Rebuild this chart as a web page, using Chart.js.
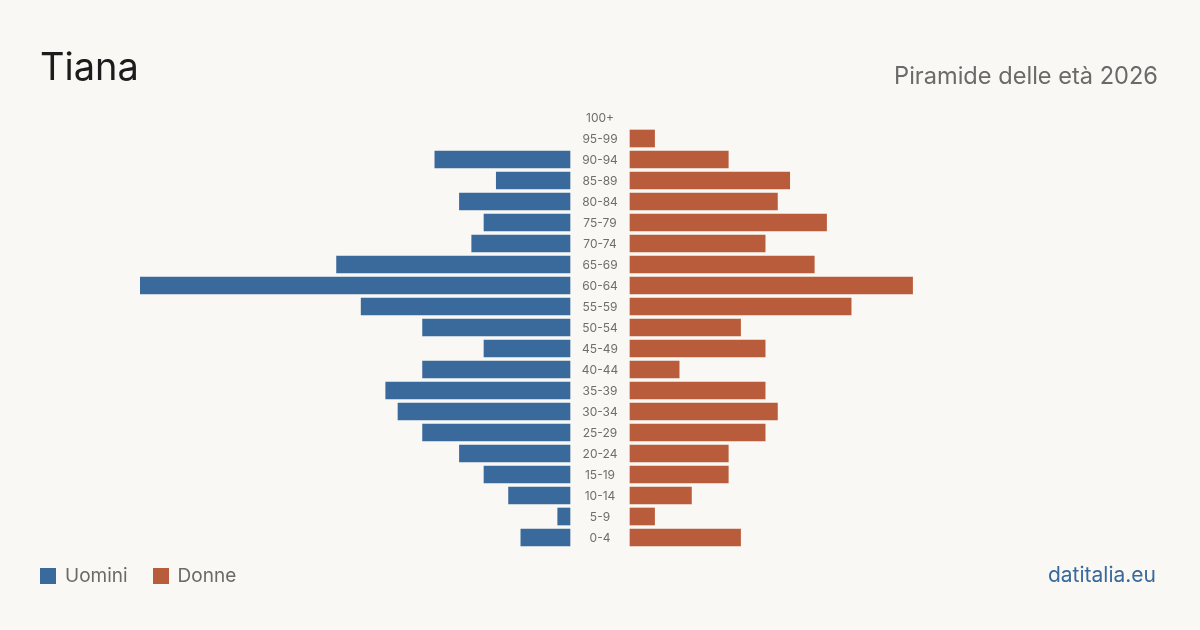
<!DOCTYPE html>
<html>
<head>
<meta charset="utf-8">
<script src="https://cdn.jsdelivr.net/npm/chart.js@4/dist/chart.umd.min.js"></script>
<style>
  html, body { margin: 0; padding: 0; background: #f9f8f4; }
  body { width: 1200px; height: 630px; position: relative; overflow: hidden; font-family: Inter, "Noto Sans", sans-serif; }
  #wrap { position: absolute; left: 0; top: 0; width: 1200px; height: 630px; }
  .title { position: absolute; left: 40px; top: 43px; font-size: 38px; color: #1c1c1c; line-height: 46px; }
  .subtitle { position: absolute; right: 42px; top: 61px; font-size: 23.6px; color: #6a6a6a; line-height: 30px; }
  .legend { position: absolute; left: 40px; top: 564px; font-size: 19px; color: #6a6a6a; line-height: 24px; display: flex; align-items: center; }
  .legend span.box { display: inline-block; width: 16px; height: 16px; margin-right: 9px; }
  .legend .item { display: flex; align-items: center; margin-right: 25px; }
  .credit { position: absolute; right: 44px; top: 562px; font-size: 21px; color: #3a6a9c; line-height: 26px; }
</style>
</head>
<body>
<div id="wrap"><canvas id="pyramid"></canvas></div>
<div class="title">Tiana</div>
<div class="subtitle">Piramide delle età 2026</div>
<div class="legend">
  <div class="item"><span class="box" style="background:#3a6a9c"></span>Uomini</div>
  <div class="item"><span class="box" style="background:#b95c3b"></span>Donne</div>
</div>
<div class="credit">datitalia.eu</div>
<script>
var ageGroups = ['100+', '95-99', '90-94', '85-89', '80-84', '75-79', '70-74', '65-69',
                 '60-64', '55-59', '50-54', '45-49', '40-44', '35-39', '30-34', '25-29',
                 '20-24', '15-19', '10-14', '5-9', '0-4'];
var men   = [0, 0, 11, 6, 9, 7, 8, 19, 35, 17, 12, 7, 12, 15, 14, 12, 9, 7, 5, 1, 4];
var women = [0, 2, 8, 13, 12, 16, 11, 15, 23, 18, 9, 11, 4, 11, 12, 11, 8, 8, 5, 2, 9];

var maxValue = 35;
// half of the label column, in data units (30px at 430px per 35)
var gap = 30 * maxValue / 430;

// empty groups get no bar at all
var menBars = men.map(function (v) { return v ? [-gap - v, -gap] : null; });
var womenBars = women.map(function (v) { return v ? [gap, gap + v] : null; });

var centerLabels = {
    id: 'centerLabels',
    afterDatasetsDraw: function (chart) {
        var ctx = chart.ctx;
        var yScale = chart.scales.y;
        var cx = chart.scales.x.getPixelForValue(0);
        ctx.save();
        ctx.font = '12px Inter, "Noto Sans", sans-serif';
        ctx.fillStyle = '#6e6e6e';
        ctx.textAlign = 'center';
        ctx.textBaseline = 'middle';
        ageGroups.forEach(function (label, i) {
            ctx.fillText(label, cx, yScale.getPixelForValue(i) + 0.5);
        });
        ctx.restore();
    }
};

var canvasContext = document.getElementById('pyramid').getContext('2d');

var pyramid = new Chart(canvasContext, {
    type: 'bar',
    data: {
        labels: ageGroups,
        datasets: [{
            label: 'Uomini',
            data: menBars,
            backgroundColor: '#3a6a9c',
            barThickness: 17,
            grouped: false
        }, {
            label: 'Donne',
            data: womenBars,
            backgroundColor: '#b95c3b',
            barThickness: 17,
            grouped: false
        }]
    },
    options: {
        indexAxis: 'y',
        responsive: true,
        maintainAspectRatio: false,
        animation: false,
        layout: {
            padding: { left: 140, right: 140, top: 107, bottom: 82 }
        },
        scales: {
            x: {
                display: false,
                min: -gap - maxValue,
                max: gap + maxValue
            },
            y: {
                display: false
            }
        },
        plugins: {
            legend: { display: false },
            title: { display: false },
            tooltip: { enabled: false }
        }
    },
    plugins: [centerLabels]
});
</script>
</body>
</html>
